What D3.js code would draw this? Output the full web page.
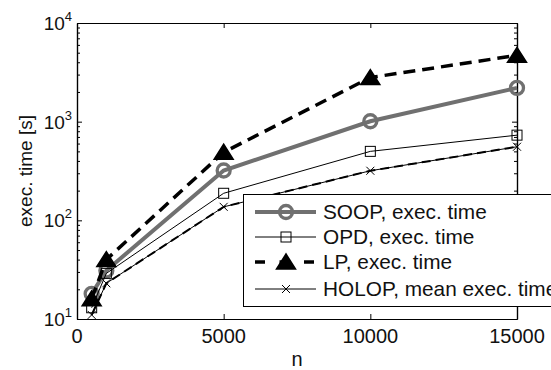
<!DOCTYPE html>
<html>
<head>
<meta charset="utf-8">
<script src="https://cdn.jsdelivr.net/npm/d3@7"></script>
<style>
  body { margin: 0; background: #fff; }
  svg { display: block; font-family: "Liberation Sans", Arial, sans-serif; }
</style>
</head>
<body>
<svg width="551" height="370"></svg>
<script>
// problem sizes
const nValues = [500, 1000, 5000, 10000, 15000];
// execution times [s]
const soopTime = [18, 31, 320, 1010, 2200];
const opdTime = [13, 29, 188, 500, 730];
const lpTime = [16, 40, 490, 2800, 4700];
const holopTime = [11, 23, 137, 318, 557];

const xTicks = [0, 5000, 10000, 15000];
const yTicks = [10, 100, 1000, 10000];
const yTickExp = ['1', '2', '3', '4'];
const legendLabels = ['SOOP, exec. time', 'OPD, exec. time', 'LP, exec. time', 'HOLOP, mean exec. time'];

const svg = d3.select('svg');
const pLeft = 77, pRight = 517, pTop = 23, pBottom = 319;

const x = d3.scaleLinear().domain([0, 15000]).range([pLeft, pRight]);
const y = d3.scaleLog().domain([10, 10000]).range([pBottom, pTop]);

// minor log ticks
const minor = [];
for (let d = 10; d < 10000; d *= 10) {
  for (let k = 2; k < 10; k++) minor.push(d * k);
}

const axisG = svg.append('g');
axisG.append('g').attr('transform', `translate(0,${pBottom})`)
  .call(d3.axisBottom(x).tickValues(xTicks).tickSize(-5).tickSizeOuter(0).tickFormat(''));
axisG.append('g').attr('transform', `translate(0,${pTop})`)
  .call(d3.axisTop(x).tickValues(xTicks).tickSize(-5).tickSizeOuter(0).tickFormat(''));
axisG.append('g').attr('transform', `translate(${pLeft},0)`)
  .call(d3.axisLeft(y).tickValues(yTicks).tickSize(-5).tickSizeOuter(0).tickFormat(''));
axisG.append('g').attr('transform', `translate(${pRight},0)`)
  .call(d3.axisRight(y).tickValues(yTicks).tickSize(-5).tickSizeOuter(0).tickFormat(''));
axisG.append('g').attr('transform', `translate(${pLeft},0)`)
  .call(d3.axisLeft(y).tickValues(minor).tickSize(-3).tickSizeOuter(0).tickFormat(''));
axisG.append('g').attr('transform', `translate(${pRight},0)`)
  .call(d3.axisRight(y).tickValues(minor).tickSize(-3).tickSizeOuter(0).tickFormat(''));
axisG.selectAll('.domain').attr('stroke', '#000').attr('stroke-width', 1.2);
axisG.selectAll('.tick line').attr('stroke', '#000');

// tick labels
svg.append('g').selectAll('text').data(xTicks).enter().append('text')
  .attr('x', d => x(d)).attr('y', 343)
  .attr('text-anchor', 'middle').attr('font-size', 20).attr('fill', '#111')
  .text(d => d);

const yl = svg.append('g').selectAll('text').data(yTicks).enter().append('text')
  .attr('x', 72).attr('y', d => y(d) + 7)
  .attr('text-anchor', 'end').attr('font-size', 19).attr('fill', '#111');
yl.append('tspan').text('10');
yl.append('tspan').attr('dy', -9).attr('font-size', 13).text((d, i) => yTickExp[i]);

svg.append('text').attr('x', (pLeft + pRight) / 2).attr('y', 366)
  .attr('text-anchor', 'middle').attr('font-size', 20).attr('fill', '#111').text('n');
svg.append('text').attr('transform', `translate(32,${(pTop + pBottom) / 2}) rotate(-90)`)
  .attr('text-anchor', 'middle').attr('font-size', 19).attr('fill', '#111').text('exec. time [s]');

const line = d3.line().x((d, i) => x(nValues[i])).y(d => y(d));

const series = [
  { vals: soopTime, color: '#707070', width: 4, dash: null, marker: 'circle' },
  { vals: opdTime, color: '#000', width: 1, dash: null, marker: 'square' },
  { vals: lpTime, color: '#000', width: 3.5, dash: '12,7', marker: 'triangle' },
  { vals: holopTime, color: '#000', width: 1, dash: null, marker: 'cross' }
];

function drawMarker(g, type, cx, cy) {
  if (type === 'circle') {
    g.append('circle').attr('cx', cx).attr('cy', cy).attr('r', 6.5)
      .attr('fill', 'none').attr('stroke', '#707070').attr('stroke-width', 3.3);
  } else if (type === 'square') {
    g.append('rect').attr('x', cx - 5).attr('y', cy - 5).attr('width', 10).attr('height', 10)
      .attr('fill', 'none').attr('stroke', '#000').attr('stroke-width', 1);
  } else if (type === 'triangle') {
    g.append('path')
      .attr('d', `M${cx},${cy - 8}L${cx + 9.5},${cy + 7}L${cx - 9.5},${cy + 7}Z`)
      .attr('fill', '#000').attr('stroke', '#000').attr('stroke-width', 1.5);
  } else {
    g.append('path')
      .attr('d', `M${cx - 4},${cy - 4}L${cx + 4},${cy + 4}M${cx - 4},${cy + 4}L${cx + 4},${cy - 4}`)
      .attr('stroke', '#000').attr('stroke-width', 1);
  }
}

const plot = svg.append('g');
series.forEach(s => {
  plot.append('path').datum(s.vals).attr('d', line)
    .attr('fill', 'none').attr('stroke', s.color).attr('stroke-width', s.width)
    .attr('stroke-dasharray', s.dash);
  const mg = plot.append('g');
  s.vals.forEach((v, i) => drawMarker(mg, s.marker, x(nValues[i]), y(v)));
});
// dashed mean line drawn over HOLOP
plot.append('path').datum(holopTime).attr('d', line)
  .attr('fill', 'none').attr('stroke', '#000').attr('stroke-width', 2)
  .attr('stroke-dasharray', '9,5');

// legend
const lg = svg.append('g');
lg.append('rect').attr('x', 243.5).attr('y', 194.5).attr('width', 330).attr('height', 112)
  .attr('fill', '#fff').attr('stroke', '#000').attr('stroke-width', 1);
const rowY = [212, 237, 262, 289];
series.forEach((s, i) => {
  lg.append('line').attr('x1', 255).attr('x2', 316).attr('y1', rowY[i]).attr('y2', rowY[i])
    .attr('stroke', s.color).attr('stroke-width', s.width)
    .attr('stroke-dasharray', s.dash ? '10,14.5' : null);
  drawMarker(lg, s.marker, 286, rowY[i]);
  lg.append('text').attr('x', 323).attr('y', rowY[i] + 7).attr('font-size', 20.8)
    .attr('fill', '#111').text(legendLabels[i]);
});
</script>
</body>
</html>
